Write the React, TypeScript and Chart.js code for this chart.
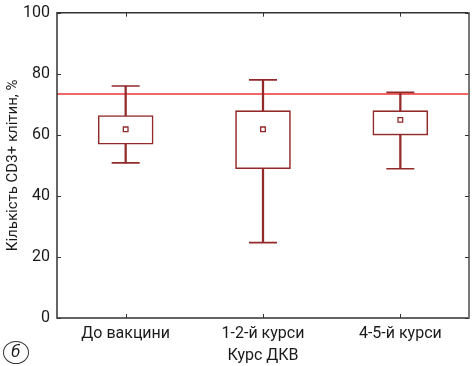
import React, { useEffect, useRef } from "react";
import { Chart, registerables } from "chart.js";

Chart.register(...registerables);

const categories = ["До вакцини", "1-2-й курси", "4-5-й курси"];
const whiskerMin = [50.8, 24.7, 48.9];
const q1 = [56.9, 48.9, 59.9];
const q3 = [66.3, 67.9, 67.9];
const whiskerMax = [76, 78, 73.9];
const means = [61.8, 61.8, 64.9];
const referenceLevel = 73.4;
const yMin = 0;
const yMax = 100;
const yStep = 20;

const boxColor = "#922a2a";
const refColor = "#ee3333";
const frameColor = "#333333";
const fontFamily = "Roboto, 'DejaVu Sans', sans-serif";

const framePlugin = {
  id: "frameAndRef",
  beforeDatasetsDraw(chart: any) {
    const { ctx, chartArea } = chart;
    const y = chart.scales.y.getPixelForValue(referenceLevel);
    ctx.save();
    ctx.strokeStyle = refColor;
    ctx.lineWidth = 1.5;
    ctx.beginPath();
    ctx.moveTo(chartArea.left, y);
    ctx.lineTo(chartArea.right, y);
    ctx.stroke();
    ctx.restore();
  },
  afterDraw(chart: any) {
    const { ctx, chartArea } = chart;
    const { left, right, top, bottom } = chartArea;
    const xs = chart.scales.x;
    const ys = chart.scales.y;
    ctx.save();
    ctx.strokeStyle = frameColor;
    ctx.lineWidth = 1.5;
    ctx.beginPath();
    ctx.moveTo(right, top);
    ctx.lineTo(left, top);
    ctx.lineTo(left, bottom);
    ctx.lineTo(right, bottom);
    ctx.stroke();
    ctx.strokeStyle = "#777777";
    ctx.lineWidth = 2;
    ctx.beginPath();
    ctx.moveTo(right, top - 0.75);
    ctx.lineTo(right, bottom + 0.75);
    ctx.stroke();
    ctx.strokeStyle = frameColor;
    ctx.lineWidth = 1;
    ctx.beginPath();
    const t = 4;
    for (let v = yMin; v <= yMax; v += yStep) {
      const py = Math.round(ys.getPixelForValue(v)) + 0.5;
      ctx.moveTo(left, py);
      ctx.lineTo(left + t, py);
      ctx.moveTo(right, py);
      ctx.lineTo(right - t, py);
    }
    categories.forEach((_, i) => {
      const px = Math.round(xs.getPixelForValue(i)) + 0.5;
      ctx.moveTo(px, bottom);
      ctx.lineTo(px, bottom - t);
      ctx.moveTo(px, top);
      ctx.lineTo(px, top + t);
    });
    ctx.stroke();
    ctx.restore();
  },
};

function BoxChart() {
  const canvasRef = useRef<HTMLCanvasElement | null>(null);

  useEffect(() => {
    document.body.style.margin = "0";
    const canvas = canvasRef.current;
    if (!canvas) return;
    const chart = new Chart(canvas, {
      type: "bar",
      data: {
        labels: categories,
        datasets: [
          {
            type: "line",
            label: "mean",
            data: means,
            showLine: false,
            pointStyle: "rect",
            pointRadius: 3.3,
            pointBackgroundColor: "#ffffff",
            pointBorderColor: boxColor,
            pointBorderWidth: 1.3,
            order: 0,
          } as any,
          {
            type: "line",
            label: "max",
            data: whiskerMax,
            showLine: false,
            pointStyle: "line",
            pointRadius: 14,
            pointBorderColor: boxColor,
            pointBorderWidth: 1.6,
            order: 1,
          } as any,
          {
            type: "line",
            label: "min",
            data: whiskerMin,
            showLine: false,
            pointStyle: "line",
            pointRadius: 14,
            pointBorderColor: boxColor,
            pointBorderWidth: 1.6,
            order: 1,
          } as any,
          {
            label: "box",
            data: categories.map((_, i) => [q1[i], q3[i]]),
            backgroundColor: "#ffffff",
            borderColor: boxColor,
            borderWidth: 1.6,
            borderSkipped: false,
            barThickness: 55,
            grouped: false,
            order: 2,
          } as any,
          {
            label: "whisker",
            data: categories.map((_, i) => [whiskerMin[i], whiskerMax[i]]),
            backgroundColor: boxColor,
            borderWidth: 0,
            barThickness: 1.6,
            grouped: false,
            order: 3,
          } as any,
        ],
      },
      options: {
        animation: false,
        responsive: false,
        maintainAspectRatio: false,
        layout: { autoPadding: false, padding: { top: 12.7, right: 4, left: 0, bottom: 0 } },
        plugins: {
          legend: { display: false },
          tooltip: { enabled: false },
        },
        scales: {
          x: {
            type: "category",
            offset: true,
            grid: { display: false, drawTicks: false },
            border: { display: false },
            ticks: {
              color: "#1a1a1a",
              padding: 6,
              font: { family: fontFamily, size: 16 },
            },
            title: {
              display: true,
              text: "Курс ДКВ",
              color: "#1a1a1a",
              padding: { top: 2, bottom: 0 },
              font: { family: fontFamily, size: 16 },
            },
            afterFit: (s: any) => {
              s.height = 48;
            },
          },
          y: {
            min: yMin,
            max: yMax,
            grid: {
              display: true,
              drawOnChartArea: false,
              drawTicks: true,
              tickLength: 5,
              color: "rgba(0,0,0,0)",
            },
            border: { display: false },
            ticks: {
              stepSize: yStep,
              color: "#1a1a1a",
              padding: 2,
              font: { family: fontFamily, size: 16 },
            },
            title: {
              display: true,
              text: "Кількість CD3+ клітин, %",
              color: "#1a1a1a",
              padding: { top: 4, bottom: 4 },
              font: { family: fontFamily, size: 15 },
            },
            afterFit: (s: any) => {
              s.width = 57;
            },
          },
        },
      },
      plugins: [framePlugin],
    });
    return () => chart.destroy();
  }, []);

  return (
    <div style={{ position: "relative", width: 473, height: 366, background: "#fff" }}>
      <canvas ref={canvasRef} width={473} height={366} style={{ display: "block" }} />
      <div
        style={{
          position: "absolute",
          left: 3,
          top: 341,
          width: 24,
          height: 21,
          border: "1px solid #333",
          borderRadius: "50%",
          display: "flex",
          alignItems: "center",
          justifyContent: "center",
          fontFamily: "'DejaVu Sans', sans-serif",
          fontStyle: "italic",
          fontSize: 15,
          color: "#1a1a1a",
          lineHeight: 1,
        }}
      >
        б
      </div>
    </div>
  );
}

export default function App() {
  return <BoxChart />;
}
